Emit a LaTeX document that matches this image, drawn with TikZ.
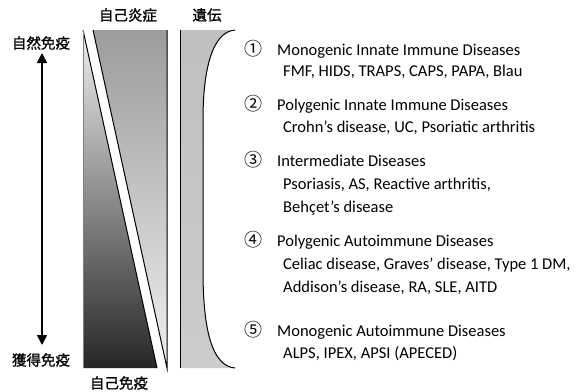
\documentclass[tikz,border=0pt]{standalone}
\usepackage{fontspec}
\setmainfont{Carlito}
\newfontfamily\jpfont[FakeBold=1.2]{Noto Sans CJK JP}
\newfontfamily\numfont{Noto Sans CJK JP}
\usetikzlibrary{arrows.meta}
\begin{document}
\begin{tikzpicture}[x=1pt,y=-1pt,
  jlabel/.style={font=\jpfont\fontsize{14.5}{16}\selectfont, inner sep=0pt},
  num/.style={font=\numfont\fontsize{18}{20}\selectfont, inner sep=0pt, anchor=base west},
  ttl/.style={font=\fontsize{16.5}{19}\selectfont, inner sep=0pt, anchor=base west},
  outline/.style={draw=black, line width=1pt}]
\useasboundingbox (0,0) rectangle (581,391);
% left panel: upper-right triangle (autoinflammation)
\shade[top color=gray!78, bottom color=gray!12] (93,30) -- (167,30) -- (167,368) -- cycle;
\draw[outline] (93,30) -- (167,368) -- (167,30);
% lower-left triangle (autoimmunity)
\shade[top color=gray!12, bottom color=black!85] (83,30) -- (157,368) -- (83,368) -- cycle;
\draw[outline] (83,30) -- (157,368);
\draw[line width=0.6pt, gray] (83,30) -- (83,368);
% right panel (genetics)
\shade[top color=gray!50, middle color=gray!12, bottom color=gray!40]
  (180,30) -- (235,30) .. controls (212,32) and (203,70) .. (203,120)
  -- (203,270) .. controls (203,330) and (212,366) .. (235,368) -- (180,368) -- cycle;
\draw[outline] (180,30) -- (180,368);
\draw[outline] (235,30) .. controls (212,32) and (203,70) .. (203,120)
  -- (203,270) .. controls (203,330) and (212,366) .. (235,368);
% labels
\node[jlabel] (lai) at (128,15) {自己炎症};
\node[jlabel] (lgen) at (207,15) {遺伝};
\node[jlabel] (laim) at (119,383) {自己免疫};
\node[jlabel] (lnat) at (41,43) {自然免疫};
\node[jlabel] (lacq) at (41,360) {獲得免疫};
% arrow
\coordinate (atop) at (42,53);
\coordinate (abot) at (42,345);
\draw[line width=1.5pt, {Triangle[length=10pt,width=10pt]}-{Triangle[length=10pt,width=10pt]}] (atop) -- (abot);
% disease list
\node[num] (n1) at (244,55) {①};
\node[ttl] (t1) at (277,55) {Monogenic Innate Immune Diseases};
\node[ttl] (s1) at (283,76) {FMF, HIDS, TRAPS, CAPS, PAPA, Blau};
\node[num] (n2) at (244,110) {②};
\node[ttl] (t2) at (277,110) {Polygenic Innate Immune Diseases};
\node[ttl] (s2) at (283,132) {Crohn’s disease, UC, Psoriatic arthritis};
\node[num] (n3) at (244,166) {③};
\node[ttl] (t3) at (277,166) {Intermediate Diseases};
\node[ttl] (s3a) at (283,189) {Psoriasis, AS, Reactive arthritis,};
\node[ttl] (s3b) at (283,212) {Behçet’s disease};
\node[num] (n4) at (244,246) {④};
\node[ttl] (t4) at (277,246) {Polygenic Autoimmune Diseases};
\node[ttl] (s4a) at (283,269) {Celiac disease, Graves’ disease, Type 1 DM,};
\node[ttl] (s4b) at (283,292) {Addison’s disease, RA, SLE, AITD};
\node[num] (n5) at (244,336) {⑤};
\node[ttl] (t5) at (277,336) {Monogenic Autoimmune Diseases};
\node[ttl] (s5) at (283,358) {ALPS, IPEX, APSI (APECED)};
\end{tikzpicture}
\end{document}
